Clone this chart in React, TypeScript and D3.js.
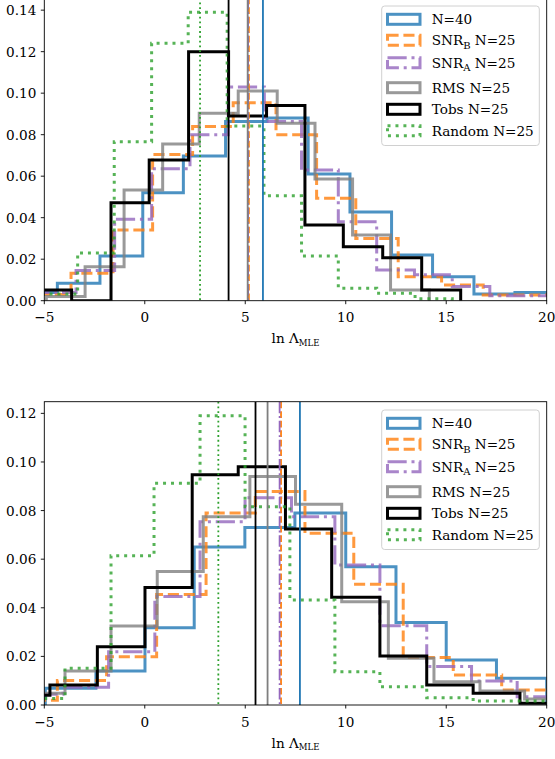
import { useEffect, useRef } from "react";
import * as d3 from "d3";

// ---- data ----
const seriesNames = ["N=40", "SNR_B N=25", "SNR_A N=25", "RMS N=25", "Tobs N=25", "Random N=25"];
const xTicks = [-5, 0, 5, 10, 15, 20];

// top panel
const topBlueEdges = [-6.4, -4.35, -2.23, -0.1, 1.92, 4.02, 6.08, 8.13, 10.21, 12.28, 14.32, 16.38, 18.42, 20.5];
const topBlueVals = [0.004, 0.0084, 0.0215, 0.052, 0.0697, 0.0863, 0.088, 0.061, 0.0428, 0.022, 0.0116, 0.0032, 0.004];
const topOrangeEdges = [-5.75, -3.67, -1.58, 0.39, 2.38, 4.4, 6.53, 8.55, 10.5, 12.61, 14.77, 16.84, 18.9, 21.0];
const topOrangeVals = [0.003, 0.0132, 0.0341, 0.0704, 0.0839, 0.0954, 0.08, 0.0494, 0.03, 0.0116, 0.0076, 0.0027, 0.0027];
const topPurpleEdges = [-5.3, -3.42, -1.5, 0.34, 2.25, 4.15, 5.95, 7.8, 9.63, 11.54, 13.42, 15.3, 17.17, 19.05, 20.9];
const topPurpleVals = [0.0039, 0.0145, 0.0392, 0.0636, 0.08, 0.103, 0.0863, 0.063, 0.038, 0.0148, 0.0125, 0.0068, 0.0024, 0.0024];
const topGrayEdges = [-4.9, -2.97, -1.03, 0.89, 2.71, 4.65, 6.59, 8.47, 10.34, 12.23, 14.16];
const topGrayVals = [0.002, 0.0164, 0.0534, 0.0755, 0.0903, 0.101, 0.0855, 0.0587, 0.0317, 0.0052];
const topBlackEdges = [-5.6, -3.64, -1.68, 0.22, 2.18, 4.17, 6.06, 7.97, 9.88, 11.84, 13.78, 15.72];
const topBlackVals = [0.0052, 0, 0.0472, 0.0678, 0.12, 0.089, 0.094, 0.0365, 0.026, 0.0207, 0.0052];
const topGreenEdges = [-5.2, -3.34, -1.52, 0.34, 2.16, 4.1, 5.93, 7.8, 9.63, 11.54, 13.45, 15.3];
const topGreenVals = [0.0032, 0.023, 0.0766, 0.124, 0.139, 0.0842, 0.0506, 0.0215, 0.006, 0.0036, 0.001];
const topMedians = [5.88, 5.18, 5.14, 5.12, 4.17, 2.75];

// bottom panel
const botBlueEdges = [-4.95, -2.43, 0.01, 2.46, 4.98, 7.47, 10.0, 12.5, 15.0, 17.5, 20.0];
const botBlueVals = [0.0069, 0.014, 0.0318, 0.065, 0.073, 0.079, 0.0569, 0.0339, 0.0185, 0.011];
const botOrangeEdges = [-6.8, -4.35, -1.9, 0.59, 3.05, 5.5, 7.97, 10.4, 12.86, 15.35, 17.76, 20.2];
const botOrangeVals = [0.002, 0.0101, 0.0199, 0.0455, 0.079, 0.0878, 0.0707, 0.0497, 0.0195, 0.0123, 0.0062];
const botPurpleEdges = [-6.34, -4.07, -1.8, 0.5, 2.75, 4.99, 7.3, 9.46, 11.7, 14.03, 16.26, 18.53, 20.8];
const botPurpleVals = [0.0044, 0.0073, 0.0219, 0.0446, 0.0754, 0.0853, 0.0775, 0.0576, 0.0326, 0.0158, 0.0099, 0.0034];
const botGrayEdges = [-6.3, -3.97, -1.68, 0.62, 2.91, 5.23, 7.5, 9.8, 12.12, 14.39, 16.68, 18.9, 21.2];
const botGrayVals = [0.0048, 0.014, 0.0325, 0.0549, 0.0775, 0.094, 0.0826, 0.0425, 0.0192, 0.0096, 0.0058, 0.0025];
const botBlackEdges = [-7.08, -4.72, -2.36, 0.01, 2.36, 4.65, 7.0, 9.3, 11.7, 14.03, 16.34, 18.67, 21.0];
const botBlackVals = [0.004, 0.0082, 0.024, 0.0483, 0.0947, 0.098, 0.0724, 0.0443, 0.0202, 0.0082, 0.0048, 0.0007];
const botGreenEdges = [-6.26, -3.97, -1.68, 0.46, 2.75, 4.99, 7.22, 9.46, 11.7, 14.03, 16.34, 18.6, 20.9];
const botGreenVals = [0.0027, 0.0151, 0.0614, 0.0912, 0.119, 0.0816, 0.0432, 0.0137, 0.0075, 0.003, 0.0016, 0.0016];
const botMedians = [7.72, 6.78, 6.71, 6.11, 5.51, 3.66];

const colors = ["#1f77b4", "#ff7f0e", "#9467bd", "#7f7f7f", "#000000", "#2ca02c"];
const opac = [0.8, 0.8, 0.8, 0.8, 1, 0.8];
const histWidth = 3;
const lineWidth = 1.8;
// matplotlib style dash patterns scaled by line width
const dashFor = (i: number, lw: number) =>
    i === 1 ? `${3.7 * lw},${1.6 * lw}` :
    i === 2 ? `${6.4 * lw},${1.6 * lw},${1 * lw},${1.6 * lw}` :
    i === 5 ? `${1 * lw},${1.65 * lw}` : null;

const FONT = "DejaVu Serif, serif";

const App = () => {
    const svgRef = useRef<SVGSVGElement>(null);

    useEffect(() => {
        const svg = d3.select(svgRef.current);
        svg.selectAll("*").remove();

        const panels = [
            {
                top: -2.3, bottom: 300.7, yMax: 0.146, yTicks: [0, 0.02, 0.04, 0.06, 0.08, 0.1, 0.12, 0.14],
                edges: [topBlueEdges, topOrangeEdges, topPurpleEdges, topGrayEdges, topBlackEdges, topGreenEdges],
                vals: [topBlueVals, topOrangeVals, topPurpleVals, topGrayVals, topBlackVals, topGreenVals],
                medians: topMedians, legendTop: 6,
            },
            {
                top: 401.7, bottom: 705, yMax: 0.1248, yTicks: [0, 0.02, 0.04, 0.06, 0.08, 0.1, 0.12],
                edges: [botBlueEdges, botOrangeEdges, botPurpleEdges, botGrayEdges, botBlackEdges, botGreenEdges],
                vals: [botBlueVals, botOrangeVals, botPurpleVals, botGrayVals, botBlackVals, botGreenVals],
                medians: botMedians, legendTop: 410,
            },
        ];

        const left = 44.3;
        const right = 546.7;

        panels.forEach((p, pi) => {
            const x = d3.scaleLinear().domain([-5, 20]).range([left, right]);
            const y = d3.scaleLinear().domain([0, p.yMax]).range([p.bottom, p.top]);

            const clipId = `clip${pi}`;
            svg.append("clipPath").attr("id", clipId)
                .append("rect")
                .attr("x", left).attr("y", p.top)
                .attr("width", right - left).attr("height", p.bottom - p.top);

            const g = svg.append("g").attr("clip-path", `url(#${clipId})`);

            const line = d3.line<[number, number]>()
                .x((d) => x(d[0]))
                .y((d) => y(d[1]))
                .curve(d3.curveStepAfter);

            // step histograms
            p.edges.forEach((edges, i) => {
                const vals = p.vals[i];
                const pts: [number, number][] = [[edges[0], 0]];
                vals.forEach((v, k) => pts.push([edges[k], v]));
                pts.push([edges[edges.length - 1], 0]);
                const path = g.append("path")
                    .attr("d", line(pts))
                    .attr("fill", "none")
                    .attr("stroke", colors[i])
                    .attr("stroke-opacity", opac[i])
                    .attr("stroke-width", histWidth)
                    .attr("stroke-linejoin", "miter");
                const dash = dashFor(i, histWidth);
                if (dash) path.attr("stroke-dasharray", dash);
            });

            // vertical median lines
            p.medians.forEach((m, i) => {
                const ln = g.append("line")
                    .attr("x1", x(m)).attr("x2", x(m))
                    .attr("y1", p.top).attr("y2", p.bottom)
                    .attr("stroke", colors[i])
                    .attr("stroke-width", lineWidth);
                const dash = dashFor(i, lineWidth);
                if (dash) ln.attr("stroke-dasharray", dash);
            });

            // frame
            svg.append("rect")
                .attr("x", left).attr("y", p.top)
                .attr("width", right - left).attr("height", p.bottom - p.top)
                .attr("fill", "none").attr("stroke", "#000").attr("stroke-width", 0.9);

            // x ticks
            const xa = svg.append("g");
            xTicks.forEach((t) => {
                xa.append("line")
                    .attr("x1", x(t)).attr("x2", x(t))
                    .attr("y1", p.bottom).attr("y2", p.bottom + 3.5)
                    .attr("stroke", "#000").attr("stroke-width", 0.9);
                xa.append("text")
                    .attr("x", x(t)).attr("y", p.bottom + 21.5)
                    .attr("text-anchor", "middle")
                    .attr("font-family", FONT).attr("font-size", 13.6)
                    .text(t < 0 ? `\u2212${Math.abs(t)}` : `${t}`);
            });

            // y ticks
            const ya = svg.append("g");
            p.yTicks.forEach((t) => {
                ya.append("line")
                    .attr("x1", left - 3.5).attr("x2", left)
                    .attr("y1", y(t)).attr("y2", y(t))
                    .attr("stroke", "#000").attr("stroke-width", 0.9);
                ya.append("text")
                    .attr("x", left - 8).attr("y", y(t) + 5)
                    .attr("text-anchor", "end")
                    .attr("font-family", FONT).attr("font-size", 13.6)
                    .text(t.toFixed(2));
            });

            // axis label
            const lab = svg.append("text")
                .attr("x", (left + right) / 2).attr("y", p.bottom + 42.5)
                .attr("text-anchor", "middle")
                .attr("font-family", FONT).attr("font-size", 13.6);
            lab.append("tspan").text("ln \u039B");
            lab.append("tspan").attr("font-size", 8.5).attr("dy", 2.5).text("MLE");

            // legend
            const lg = svg.append("g");
            const lTop = p.legendTop;
            lg.append("rect")
                .attr("x", 381.7).attr("y", lTop)
                .attr("width", 157.6).attr("height", 139.5)
                .attr("rx", 3)
                .attr("fill", "#fff").attr("fill-opacity", 0.8)
                .attr("stroke", "#d0d0d0").attr("stroke-width", 1);
            const rowY = [13.3, 34.3, 56.8, 81.7, 103.3, 124.7];
            seriesNames.forEach((name, i) => {
                const cy = lTop + rowY[i];
                const r = lg.append("rect")
                    .attr("x", 387.5).attr("y", cy - 5)
                    .attr("width", 32.5).attr("height", 10)
                    .attr("fill", "none")
                    .attr("stroke", colors[i]).attr("stroke-opacity", opac[i])
                    .attr("stroke-width", histWidth);
                const dash = dashFor(i, histWidth);
                if (dash) r.attr("stroke-dasharray", dash);

                const t = lg.append("text")
                    .attr("x", 431.7).attr("y", cy + 5)
                    .attr("font-family", FONT).attr("font-size", 13.6);
                const m = name.match(/^(\w+)_(\w) (.*)$/);
                if (m) {
                    t.append("tspan").text(m[1]);
                    t.append("tspan").attr("font-size", 10).attr("dy", 3.5).text(m[2]);
                    t.append("tspan").attr("dy", -3.5).text(" " + m[3]);
                } else {
                    t.text(name);
                }
            });
        });
    }, []);

    return (
        <svg
            ref={svgRef}
            width={555}
            height={759}
            style={{ position: "absolute", left: 0, top: 0, background: "#fff" }}
        />
    );
};

export default App;
